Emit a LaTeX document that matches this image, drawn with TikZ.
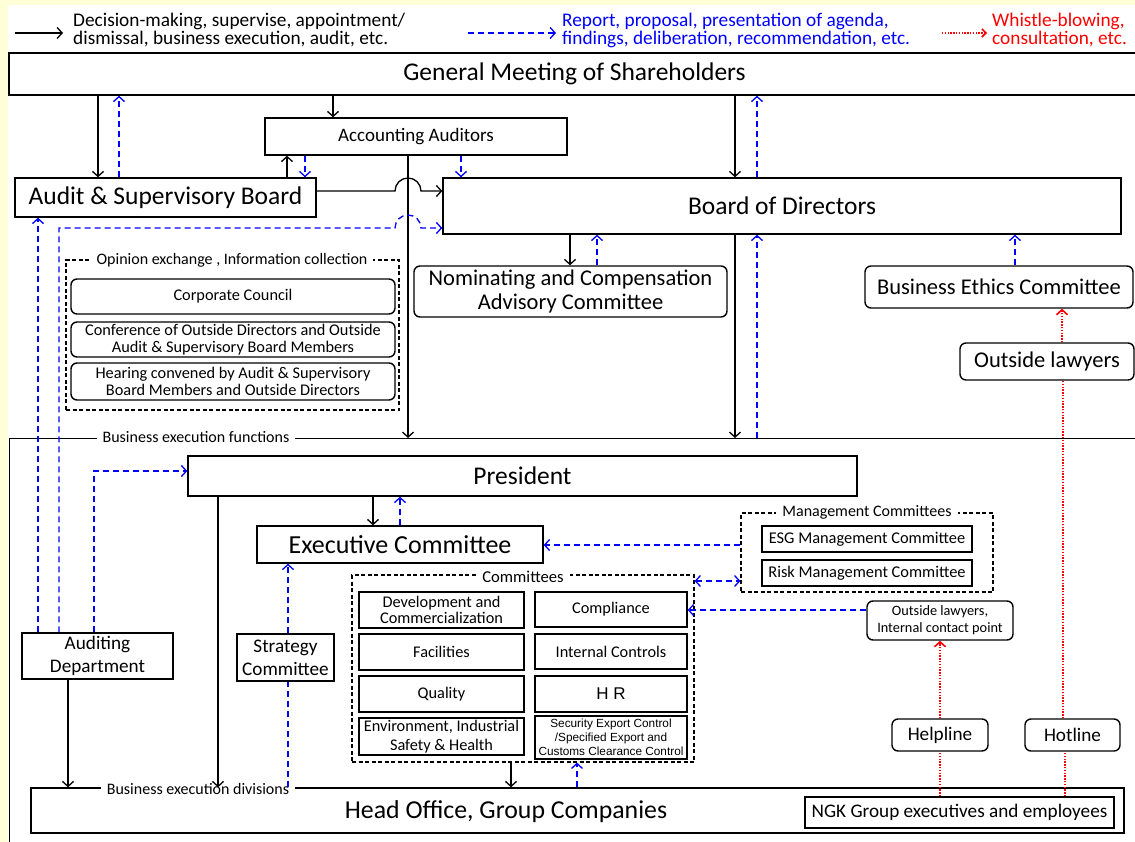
\documentclass[tikz,border=0pt]{standalone}
\usepackage{fontspec}
\setmainfont{Carlito}
\newfontfamily\arialf{Liberation Sans}
\usetikzlibrary{arrows.meta}
\definecolor{yel}{RGB}{255,255,215}
\tikzset{
  box/.style={draw, line width=1.4pt, inner sep=1pt, align=center},
  rbox/.style={box, rounded corners=6pt},
  grp/.style={draw, line width=1.2pt, dash pattern=on 4pt off 2.5pt},
  tag/.style={fill=white, inner xsep=6pt, inner ysep=2pt, font=\fontsize{16}{18}\selectfont},
  tip/.style={-{Straight Barb[length=5pt,width=11pt]}},
  blk/.style={line width=1.3pt, tip},
  rep/.style={line width=1.3pt, blue, dash pattern=on 6pt off 4pt},
  wb/.style={line width=1.6pt, red, dash pattern=on 1.4pt off 1.4pt},
  fbig/.style={font=\fontsize{25.5}{28}\selectfont},
  fmid/.style={font=\fontsize{22.5}{24}\selectfont},
  fsml/.style={font=\fontsize{19.2}{23}\selectfont},
  ftiny/.style={font=\fontsize{16.3}{16.5}\selectfont},
}

\begin{document}
\begin{tikzpicture}[x=1pt, y=-1pt]
\useasboundingbox (0,0) rectangle (1135,842);
\fill[yel] (0,0) rectangle (1135,842);
\fill[white] (8,5) rectangle (1135,842);

% legend
\coordinate (k1) at (15,33);
\coordinate (k2) at (63,33);
\coordinate (k3) at (468,33);
\coordinate (k4) at (556,33);
\coordinate (k5) at (942,33);
\coordinate (k6) at (987,33);
\draw[blk] (k1) -- (k2);
\draw[rep, tip] (k3) -- (k4);
\draw[wb, -{Straight Barb[length=4pt,width=8pt]}] (k5) -- (k6);
\node[anchor=west, align=left, inner sep=0pt, font=\fontsize{19.3}{18}\selectfont] (lg1) at (73,30)
  {Decision-making, supervise, appointment/\\dismissal, business execution, audit, etc.};
\node[anchor=west, align=left, inner sep=0pt, blue, font=\fontsize{19.3}{18}\selectfont] (lg2) at (562,30)
  {Report, proposal, presentation of agenda,\\findings, deliberation, recommendation, etc.};
\node[anchor=west, align=left, inner sep=0pt, red, font=\fontsize{19.3}{18}\selectfont] (lg3) at (992,30)
  {Whistle-blowing,\\consultation, etc.};

% governance
\node[box, fbig, minimum width=1131, minimum height=42] (gms) at (574.5,74) {General Meeting of Shareholders};
\node[box, font=\fontsize{19}{20}\selectfont, minimum width=302, minimum height=37] (accaud) at (416,136.5) {Accounting Auditors};
\node[box, fbig, minimum width=301, minimum height=39] (asb) at (165.5,197.5) {Audit \& Supervisory Board};
\node[box, fbig, minimum width=678, minimum height=56] (bod) at (782,206) {Board of Directors};
\node[rbox, fmid, minimum width=313, minimum height=51] (ncac) at (570.5,291.5) {Nominating and Compensation\\Advisory Committee};
\node[rbox, fmid, minimum width=268, minimum height=42] (bec) at (999,287) {Business Ethics Committee};
\node[rbox, fmid, minimum width=174, minimum height=37] (olaw) at (1047,361.5) {Outside lawyers};

% opinion exchange
\node[grp, minimum width=333, minimum height=150] (opin) at (232.5,335) {};
\node[tag] (opinlbl) at (232,260) {Opinion exchange , Information collection};
\node[rbox, ftiny, minimum width=324, minimum height=35] (cc) at (233,296.5) {Corporate Council};
\node[rbox, ftiny, minimum width=324, minimum height=35] (conf) at (233,339.5) {Conference of Outside Directors and Outside\\Audit \& Supervisory Board Members};
\node[rbox, ftiny, minimum width=324, minimum height=37] (hear) at (233,381.5) {Hearing convened by Audit \& Supervisory\\Board Members and Outside Directors};

% business execution functions
\coordinate (fn) at (9,438);
\draw[line width=1pt] (1135,438) -- (fn) -- (9,842);
\node[tag] (fnlbl) at (196,437) {Business execution functions};

\node[box, fbig, minimum width=669, minimum height=40] (pres) at (522.5,476) {President};
\node[box, font=\fontsize{26}{28}\selectfont, minimum width=286, minimum height=37] (exec) at (400,544.5) {Executive Committee};

% management committees
\node[grp, minimum width=252, minimum height=79] (mgmt) at (867,552.5) {};
\node[tag] (mgmtlbl) at (867,512) {Management Committees};
\node[box, font=\fontsize{16.4}{18}\selectfont, minimum width=210, minimum height=26] (esg) at (867,539) {ESG Management Committee};
\node[box, font=\fontsize{16.4}{18}\selectfont, minimum width=210, minimum height=26] (risk) at (867,573) {Risk Management Committee};

% committees
\node[grp, minimum width=342, minimum height=187] (comm) at (523,668.5) {};
\node[tag, font=\fontsize{16.6}{18}\selectfont] (commlbl) at (523,577) {Committees};
\node[box, ftiny, minimum width=165, minimum height=36] (dev) at (441.5,610) {Development and\\Commercialization};
\node[box, ftiny, minimum width=165, minimum height=36] (fac) at (441.5,652) {Facilities};
\node[box, ftiny, minimum width=165, minimum height=36] (qual) at (441.5,694) {Quality};
\node[box, font=\fontsize{16.3}{19}\selectfont, minimum width=165, minimum height=37] (env) at (441.5,736.5) {Environment, Industrial\\Safety \& Health};
\node[box, ftiny, minimum width=152, minimum height=35] (compl) at (611,609.5) {Compliance};
\node[box, ftiny, minimum width=152, minimum height=35] (intc) at (611,651.5) {Internal Controls};
\node[box, font=\arialf\fontsize{17}{19}\selectfont, minimum width=152, minimum height=36] (hr) at (611,694) {H R};
\node[box, font=\arialf\fontsize{11.8}{14}\selectfont, minimum width=152, minimum height=43] (sec) at (611,737.5) {Security Export Control\\/Specified Export and\\Customs Clearance Control};

\node[rbox, font=\fontsize{14.3}{17}\selectfont, minimum width=146, minimum height=39] (oic) at (940,620.5) {Outside lawyers,\\Internal contact point};
\node[box, fsml, minimum width=151, minimum height=46] (audd) at (97.5,656) {Auditing\\Department};
\node[box, fsml, minimum width=97, minimum height=47] (strat) at (285.5,657.5) {Strategy\\Committee};
\node[rbox, fsml, minimum width=96, minimum height=32] (help) at (940,735) {Helpline};
\node[rbox, fsml, minimum width=95, minimum height=32] (hot) at (1072.5,735) {Hotline};

% business execution divisions
\node[box, minimum width=1093, minimum height=45] (ho) at (577.5,810.5) {};
\node[font=\fontsize{25.8}{28}\selectfont] (hotxt) at (506,812) {Head Office, Group Companies};
\node[tag] (divlbl) at (198,789) {Business execution divisions};
\node[box, fsml, minimum width=309, minimum height=31] (ngk) at (959.5,812.5) {NGK Group executives and employees};

% connectors: top
\draw[blk] (gms.south -| 98,0) -- (asb.north -| 98,0);
\draw[rep, tip] (asb.north -| 119,0) -- (gms.south -| 119,0);
\draw[blk] (gms.south -| 333,0) -- (accaud.north -| 333,0);
\draw[blk] (asb.north -| 287,0) -- (accaud.south -| 287,0);
\draw[rep, tip] (accaud.south -| 305,0) -- (asb.north -| 305,0);
\draw[rep, tip] (accaud.south -| 461,0) -- (bod.north -| 461,0);
\draw[blk] (accaud.south -| 408,0) -- (fn -| 408,0);
\draw[blk] (asb.east |- 0,191) -- (395,191) arc[start angle=180, end angle=0, radius=13pt] -- (bod.west |- 0,191);
\draw[blk] (gms.south -| 735,0) -- (bod.north -| 735,0);
\draw[rep, tip] (bod.north -| 757,0) -- (gms.south -| 757,0);
\draw[blk] (bod.south -| 570,0) -- (ncac.north -| 570,0);
\draw[rep, tip] (ncac.north -| 597,0) -- (bod.south -| 597,0);
\draw[blk] (bod.south -| 735,0) -- (fn -| 735,0);
\draw[rep, tip] (fn -| 757,0) -- (bod.south -| 757,0);
\draw[rep, tip] (bec.north -| 1015,0) -- (bod.south -| 1015,0);
\draw[wb, tip] (olaw.north -| 1062,0) -- (bec.south -| 1062,0);
\draw[wb] (hot.north -| 1063,0) -- (olaw.south -| 1063,0);

% connectors: auditing department
\draw[rep, tip] (audd.north -| 38,0) -- (asb.south -| 38,0);
\draw[rep, tip] (audd.north -| 59,0) |- (395,228) arc[start angle=180, end angle=0, radius=13pt] -- (bod.west |- 0,228);
\draw[rep, tip] (audd.north -| 94,0) |- (pres.west |- 0,471);
\draw[blk] (audd.south -| 68,0) -- (ho.north -| 68,0);

% connectors: execution
\draw[blk] (pres.south -| 373,0) -- (exec.north -| 373,0);
\draw[rep, tip] (exec.north -| 400,0) -- (pres.south -| 400,0);
\draw[blk] (pres.south -| 218,0) -- (ho.north -| 218,0);
\draw[rep, tip] (strat.north -| 288,0) -- (exec.south -| 288,0);
\draw[rep] (ho.north -| 288,0) -- (strat.south -| 288,0);
\draw[rep, tip] (mgmt.west |- 0,545) -- (exec.east |- 0,545);
\draw[rep, {Straight Barb[length=5pt,width=11pt]}-{Straight Barb[length=5pt,width=11pt]}] (comm.east |- 0,581) -- (mgmt.west |- 0,581);
\draw[rep, tip] (oic.west |- 0,610) -- (compl.east |- 0,610);
\draw[blk] (comm.south -| 511,0) -- (ho.north -| 511,0);
\draw[rep, tip] (ho.north -| 577,0) -- (comm.south -| 577,0);

% whistle-blowing
\draw[wb] (ngk.north -| 940,0) -- (help.south -| 940,0);
\draw[wb, tip] (help.north -| 940,0) -- (oic.south -| 940,0);
\draw[wb] (ngk.north -| 1065,0) -- (hot.south -| 1065,0);
\end{tikzpicture}
\end{document}
